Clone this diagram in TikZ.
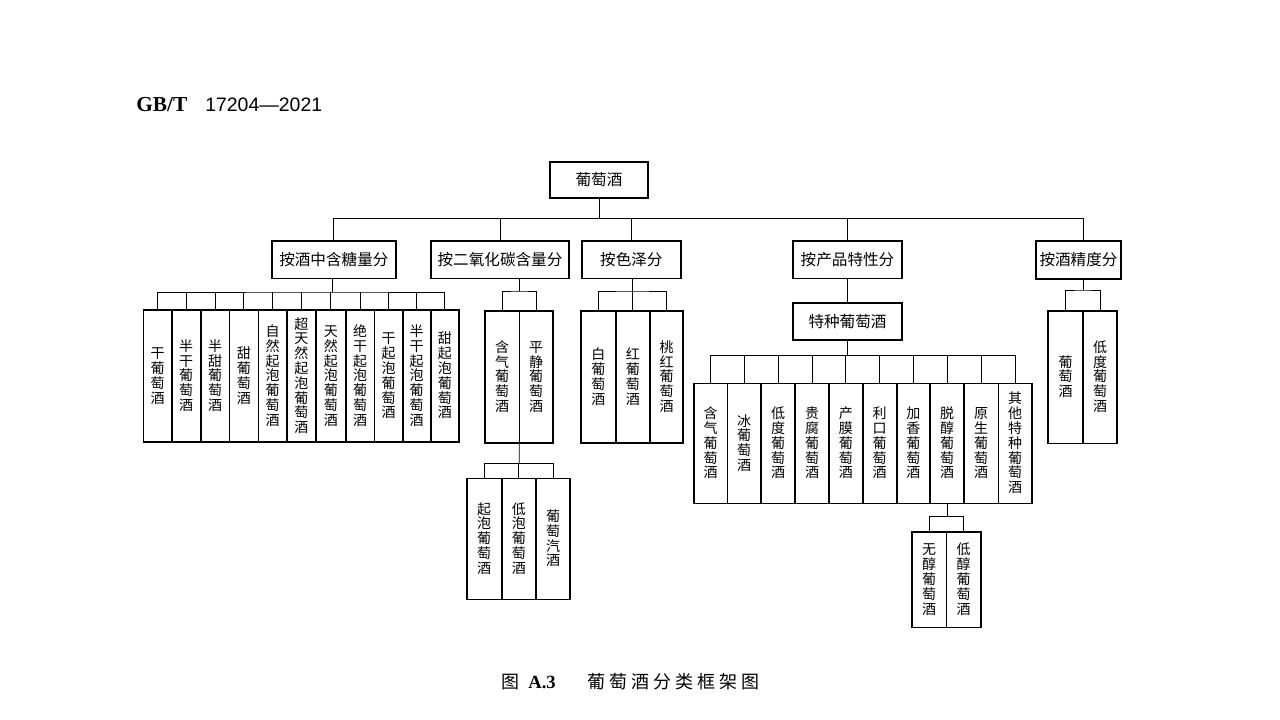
\documentclass[tikz,border=0pt]{standalone}
\usepackage{fontspec}
\setmainfont{Liberation Serif}
\newfontfamily\cjk{Noto Sans CJK SC}
\newfontfamily\arialfont{Liberation Sans}
\makeatletter
\newcommand\vstk[1]{\vbox{\offinterlineskip\expandafter\vstk@a#1\relax}}
\def\vstk@a#1{\ifx#1\relax\else\hbox to 1em{\hss\vrule height .88em depth .12em width 0pt\relax #1\hss}\kern.6pt\relax\expandafter\vstk@a\fi}
\makeatother
\tikzset{
  hb/.style={draw, line width=1.2pt, inner sep=0pt, outer sep=0pt, font=\cjk\fontsize{11.7}{12}\selectfont},
  vb/.style={draw, line width=1.2pt, inner sep=0pt, outer sep=0pt, font=\cjk\fontsize{10.5}{11}\selectfont},
  conn/.style={line width=0.6pt},
}
% \bx{style}{x1}{y1}{x2}{y2}{name}{text}
\newcommand\bx[7]{\node[#1, minimum width={(#4-#2)*0.75pt}, minimum height={(#5-#3)*0.75pt}] (#6) at ({(#2+#4)/2},{(#3+#5)/2}) {#7};}
\newcommand\vx[6]{\bx{vb}{#1}{#2}{#3}{#4}{#5}{\vstk{#6}}}
\begin{document}
\begin{tikzpicture}[x=0.75pt,y=-0.75pt]
\useasboundingbox (0,0) rectangle (1280,720);
\fill[white] (0,0) rectangle (1280,720);

% header
\node[anchor=base west, inner sep=0pt, font=\fontsize{16}{16}\selectfont\bfseries] (hdrA) at (136,112) {GB/T};
\node[anchor=base west, inner sep=0pt, font=\arialfont\fontsize{14.6}{15}\selectfont] (hdrB) at (205,112) {17204—2021};

% root and level 1
\bx{hb}{550}{162}{648}{198}{root}{葡萄酒}
\bx{hb}{271.7}{241}{396}{278.3}{tang}{按酒中含糖量分}
\bx{hb}{431}{241}{569}{278.3}{co2}{按二氧化碳含量分}
\bx{hb}{581.7}{241}{681}{278.3}{color}{按色泽分}
\bx{hb}{793}{241}{902}{278.3}{prod}{按产品特性分}
\bx{hb}{1036}{241}{1121}{279}{jiu}{按酒精度分}

\coordinate (t5) at (1083,218.3);
\draw[conn] (root.south) -- (root.south |- t5);
\draw[conn] (tang.north) |- (t5) -- (t5 |- jiu.north);
\draw[conn] (co2.north) -- (co2.north |- t5);
\draw[conn] (color.north) -- (color.north |- t5);
\draw[conn] (prod.north) -- (prod.north |- t5);

% sugar group
\vx{143.3}{310}{171.7}{442}{a1}{干葡萄酒}
\vx{171.7}{310}{200.7}{442}{a2}{半干葡萄酒}
\vx{200.7}{310}{229.3}{442}{a3}{半甜葡萄酒}
\vx{229.3}{310}{258.3}{442}{a4}{甜葡萄酒}
\vx{258.3}{310}{286.7}{442}{a5}{自然起泡葡萄酒}
\vx{286.7}{310}{316}{442}{a6}{超天然起泡葡萄酒}
\vx{316}{310}{345.7}{442}{a7}{天然起泡葡萄酒}
\vx{345.7}{310}{374.3}{442}{a8}{绝干起泡葡萄酒}
\vx{374.3}{310}{402.7}{442}{a9}{干起泡葡萄酒}
\vx{402.7}{310}{430.7}{442}{a10}{半干起泡葡萄酒}
\vx{430.7}{310}{459}{442}{a11}{甜起泡葡萄酒}
\coordinate (jA) at (332.7,292);
\draw[conn] (tang.south -| jA) -- (jA);
\draw[conn] (a1.north) |- (jA) -| (a11.north);
\foreach \i in {2,...,10} \draw[conn] (a\i.north) -- (a\i.north |- jA);

% CO2 group
\vx{485}{311}{519.3}{443}{b1}{含气葡萄酒}
\vx{519.3}{311}{553}{443}{b2}{平静葡萄酒}
\coordinate (jB) at (519.3,291);
\draw[conn] (co2.south -| jB) -- (jB);
\draw[conn] (b1.north) |- (jB) -| (b2.north);
\vx{466.7}{478.3}{501.7}{599.3}{f1}{起泡葡萄酒}
\vx{501.7}{478.3}{536}{599.3}{f2}{低泡葡萄酒}
\vx{536}{478.3}{570}{599.3}{f3}{葡萄汽酒}
\coordinate (jF) at (519.3,463.3);
\draw[conn] (b1.south east) -- (jF);
\draw[conn] (f1.north) |- (jF) -| (f3.north);
\draw[conn] (f2.north) -- (f2.north |- jF);

% colour group
\vx{581}{311}{615.7}{443}{c1}{白葡萄酒}
\vx{615.7}{311}{650}{443}{c2}{红葡萄酒}
\vx{650}{311}{683}{443}{c3}{桃红葡萄酒}
\coordinate (jC) at (632.3,291);
\draw[conn] (color.south -| jC) -- (jC);
\draw[conn] (c1.north) |- (jC) -| (c3.north);
\draw[conn] (c2.north) -- (c2.north |- jC);

% product group
\bx{hb}{793}{303}{902}{340}{tz}{特种葡萄酒}
\draw[conn] (prod.south) -- (tz.north);
\vx{694}{383.3}{727.3}{503.3}{d1}{含气葡萄酒}
\vx{727.3}{383.3}{761}{503.3}{d2}{冰葡萄酒}
\vx{761}{383.3}{795}{503.3}{d3}{低度葡萄酒}
\vx{795}{383.3}{829}{503.3}{d4}{贵腐葡萄酒}
\vx{829}{383.3}{862.7}{503.3}{d5}{产膜葡萄酒}
\vx{862.7}{383.3}{896.7}{503.3}{d6}{利口葡萄酒}
\vx{896.7}{383.3}{930}{503.3}{d7}{加香葡萄酒}
\vx{930}{383.3}{964}{503.3}{d8}{脱醇葡萄酒}
\vx{964}{383.3}{998.3}{503.3}{d9}{原生葡萄酒}
\vx{998.3}{383.3}{1031.7}{503.3}{d10}{其他特种葡萄酒}
\coordinate (jD) at (847.5,355.7);
\draw[conn] (tz.south) -- (jD);
\draw[conn] (d1.north) |- (jD) -| (d10.north);
\foreach \i in {2,...,9} \draw[conn] (d\i.north) -- (d\i.north |- jD);
\vx{911.7}{531.7}{946.3}{627.3}{e1}{无醇葡萄酒}
\vx{946.3}{531.7}{980.7}{627.3}{e2}{低醇葡萄酒}
\coordinate (jE) at (947,516.7);
\draw[conn] (d8.south) -- (d8.south |- jE);
\draw[conn] (e1.north) |- (jE) -| (e2.north);

% alcohol group
\vx{1048}{310.7}{1083}{443.3}{g1}{葡萄酒}
\vx{1083}{310.7}{1117}{443.3}{g2}{低度葡萄酒}
\coordinate (jG) at (1083,290);
\draw[conn] (jiu.south -| jG) -- (jG);
\draw[conn] (g1.north) |- (jG) -| (g2.north);

% caption
\node[anchor=base west, inner sep=0pt, font=\cjk\fontsize{13.5}{14}\selectfont] (capA) at (501,688) {图};
\node[anchor=base west, inner sep=0pt, font=\fontsize{14}{14}\selectfont\bfseries] (capB) at (528,688) {A.3};
\node[anchor=base west, inner sep=0pt, font=\cjk\fontsize{13.5}{14}\selectfont] (capC) at (587,688) {葡\kern3pt 萄\kern3pt 酒\kern3pt 分\kern3pt 类\kern3pt 框\kern3pt 架\kern3pt 图};
\end{tikzpicture}
\end{document}
